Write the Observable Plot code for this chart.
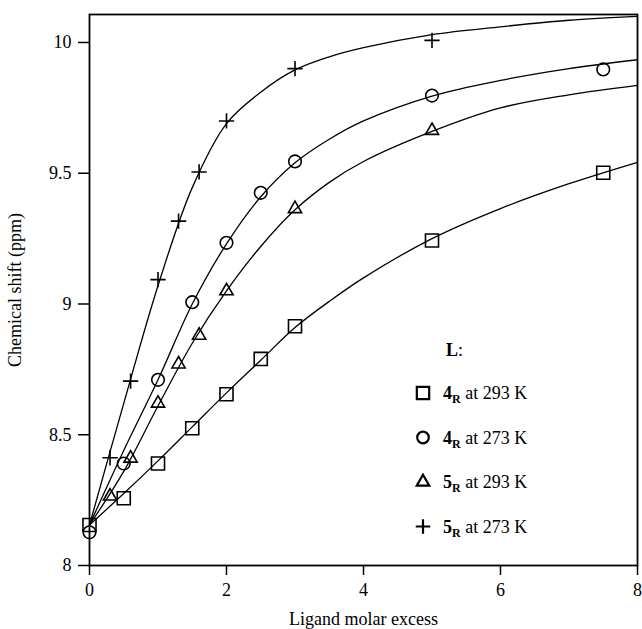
<!DOCTYPE html>
<html><head><meta charset="utf-8">
<script src="https://cdn.jsdelivr.net/npm/d3@7"></script>
<script src="https://cdn.jsdelivr.net/npm/@observablehq/plot@0.6"></script>
<style>body{margin:0;background:#fff}</style>
</head><body><div id="chart"></div><script>
// Series metadata
const seriesLigand = ["4", "4", "5", "5"];
const seriesTemp = ["293 K", "273 K", "293 K", "273 K"];
const seriesSymbol = ["square2", "circle", "triangle2", "plus"];

// Measured points
const sqX = [0, 0.5, 1, 1.5, 2, 2.5, 3, 5, 7.5];
const sqY = [8.155, 8.257, 8.39, 8.525, 8.655, 8.79, 8.915, 9.243, 9.502];
const ciX = [0, 0.5, 1, 1.5, 2, 2.5, 3, 5, 7.5];
const ciY = [8.127, 8.39, 8.71, 9.007, 9.234, 9.425, 9.545, 9.797, 9.897];
const trX = [0.3, 0.6, 1, 1.3, 1.6, 2, 3, 5];
const trY = [8.265, 8.41, 8.62, 8.77, 8.88, 9.05, 9.364, 9.663];
const plX = [0.3, 0.6, 1, 1.3, 1.6, 2, 3, 5];
const plY = [8.412, 8.705, 9.093, 9.317, 9.505, 9.70, 9.90, 10.008];

// Fitted curves
const fitX = [0, 0.5, 1, 1.5, 2, 2.5, 3, 3.5, 4, 5, 6, 7, 8];
const fitSq = [8.155, 8.275, 8.40, 8.53, 8.66, 8.785, 8.91, 9.01, 9.10, 9.25, 9.365, 9.46, 9.542];
const fitCi = [8.155, 8.44, 8.71, 9.00, 9.23, 9.41, 9.54, 9.63, 9.70, 9.795, 9.855, 9.90, 9.934];
const fitTr = [8.155, 8.36, 8.61, 8.85, 9.05, 9.22, 9.36, 9.465, 9.545, 9.66, 9.75, 9.80, 9.836];
const fitPl = [8.155, 8.62, 9.07, 9.445, 9.69, 9.81, 9.895, 9.945, 9.98, 10.03, 10.06, 10.085, 10.10];

const xTicks = [0, 2, 4, 6, 8];
const yTicks = [8, 8.5, 9, 9.5, 10];

const pts = (xs, ys) => xs.map((x, i) => ({x, y: ys[i]}));
const FONT = "'Liberation Serif', 'Times New Roman', serif";
const symR = {square2: 8.3, circle: 6.3, triangle2: 6.3, plus: 5};

const lineOpts = {x: "x", y: "y", curve: "catmull-rom", stroke: "black", strokeWidth: 1.3};
const dotOpts = (s) => ({x: "x", y: "y", symbol: s, r: symR[s], stroke: "black", strokeWidth: 1.6, fill: "none"});

const plot = Plot.plot({
  width: 642, height: 629,
  marginLeft: 89, marginRight: 5, marginTop: 14, marginBottom: 64,
  style: {fontFamily: FONT, fontSize: "18px", color: "black", background: "white"},
  x: {domain: [0, 8]},
  y: {domain: [8, 10.107]},
  marks: [
    Plot.axisX({ticks: xTicks, tickSize: 10, tickPadding: 8, strokeWidth: 1.5, fontSize: 18,
      label: "Ligand molar excess", labelAnchor: "center", labelArrow: "none", labelOffset: 59}),
    Plot.axisY({ticks: yTicks, tickFormat: d => String(d), tickSize: 11, tickPadding: 7, strokeWidth: 1.5, fontSize: 18,
      label: "Chemical shift (ppm)", labelAnchor: "center", labelArrow: "none", labelOffset: 81}),
    Plot.line(pts(fitX, fitSq), lineOpts),
    Plot.line(pts(fitX, fitCi), lineOpts),
    Plot.line(pts(fitX, fitTr), lineOpts),
    Plot.line(pts(fitX, fitPl), lineOpts),
    Plot.dot(pts(sqX, sqY), dotOpts("square2")),
    Plot.dot(pts(ciX, ciY), dotOpts("circle")),
    Plot.dot(pts(trX, trY), dotOpts("triangle2")),
    Plot.dot(pts(plX, plY), dotOpts("plus")),
    Plot.frame({stroke: "black", strokeWidth: 1.8})
  ]
});

// Legend inside the plot area
const svg = d3.select(plot);
const lg = svg.append("g").attr("font-family", FONT).attr("font-size", 18).attr("fill", "black").attr("text-anchor", "start");
const lt = lg.append("text").attr("x", 446).attr("y", 356);
lt.append("tspan").attr("font-weight", "bold").text("L");
lt.append("tspan").text(":");
const d3Sym = {square2: d3.symbolSquare2, circle: d3.symbolCircle, triangle2: d3.symbolTriangle2, plus: d3.symbolPlus};
seriesSymbol.forEach((s, i) => {
  const cy = 393 + i * 44.5;
  lg.append("path")
    .attr("transform", `translate(423,${cy})`)
    .attr("d", d3.symbol(d3Sym[s], Math.PI * symR[s] * symR[s] * (s === "circle" ? 0.85 : 0.9))())
    .attr("fill", "none").attr("stroke", "black").attr("stroke-width", s === "circle" ? 2.2 : 2.2);
  const t = lg.append("text").attr("x", 443).attr("y", cy + 6);
  t.append("tspan").attr("font-weight", "bold").text(seriesLigand[i]);
  t.append("tspan").attr("font-weight", "bold").attr("font-size", 12).attr("dy", 4).text("R");
  t.append("tspan").attr("dy", -4).text(" at " + seriesTemp[i]);
});

document.getElementById("chart").appendChild(plot);
</script></body></html>
